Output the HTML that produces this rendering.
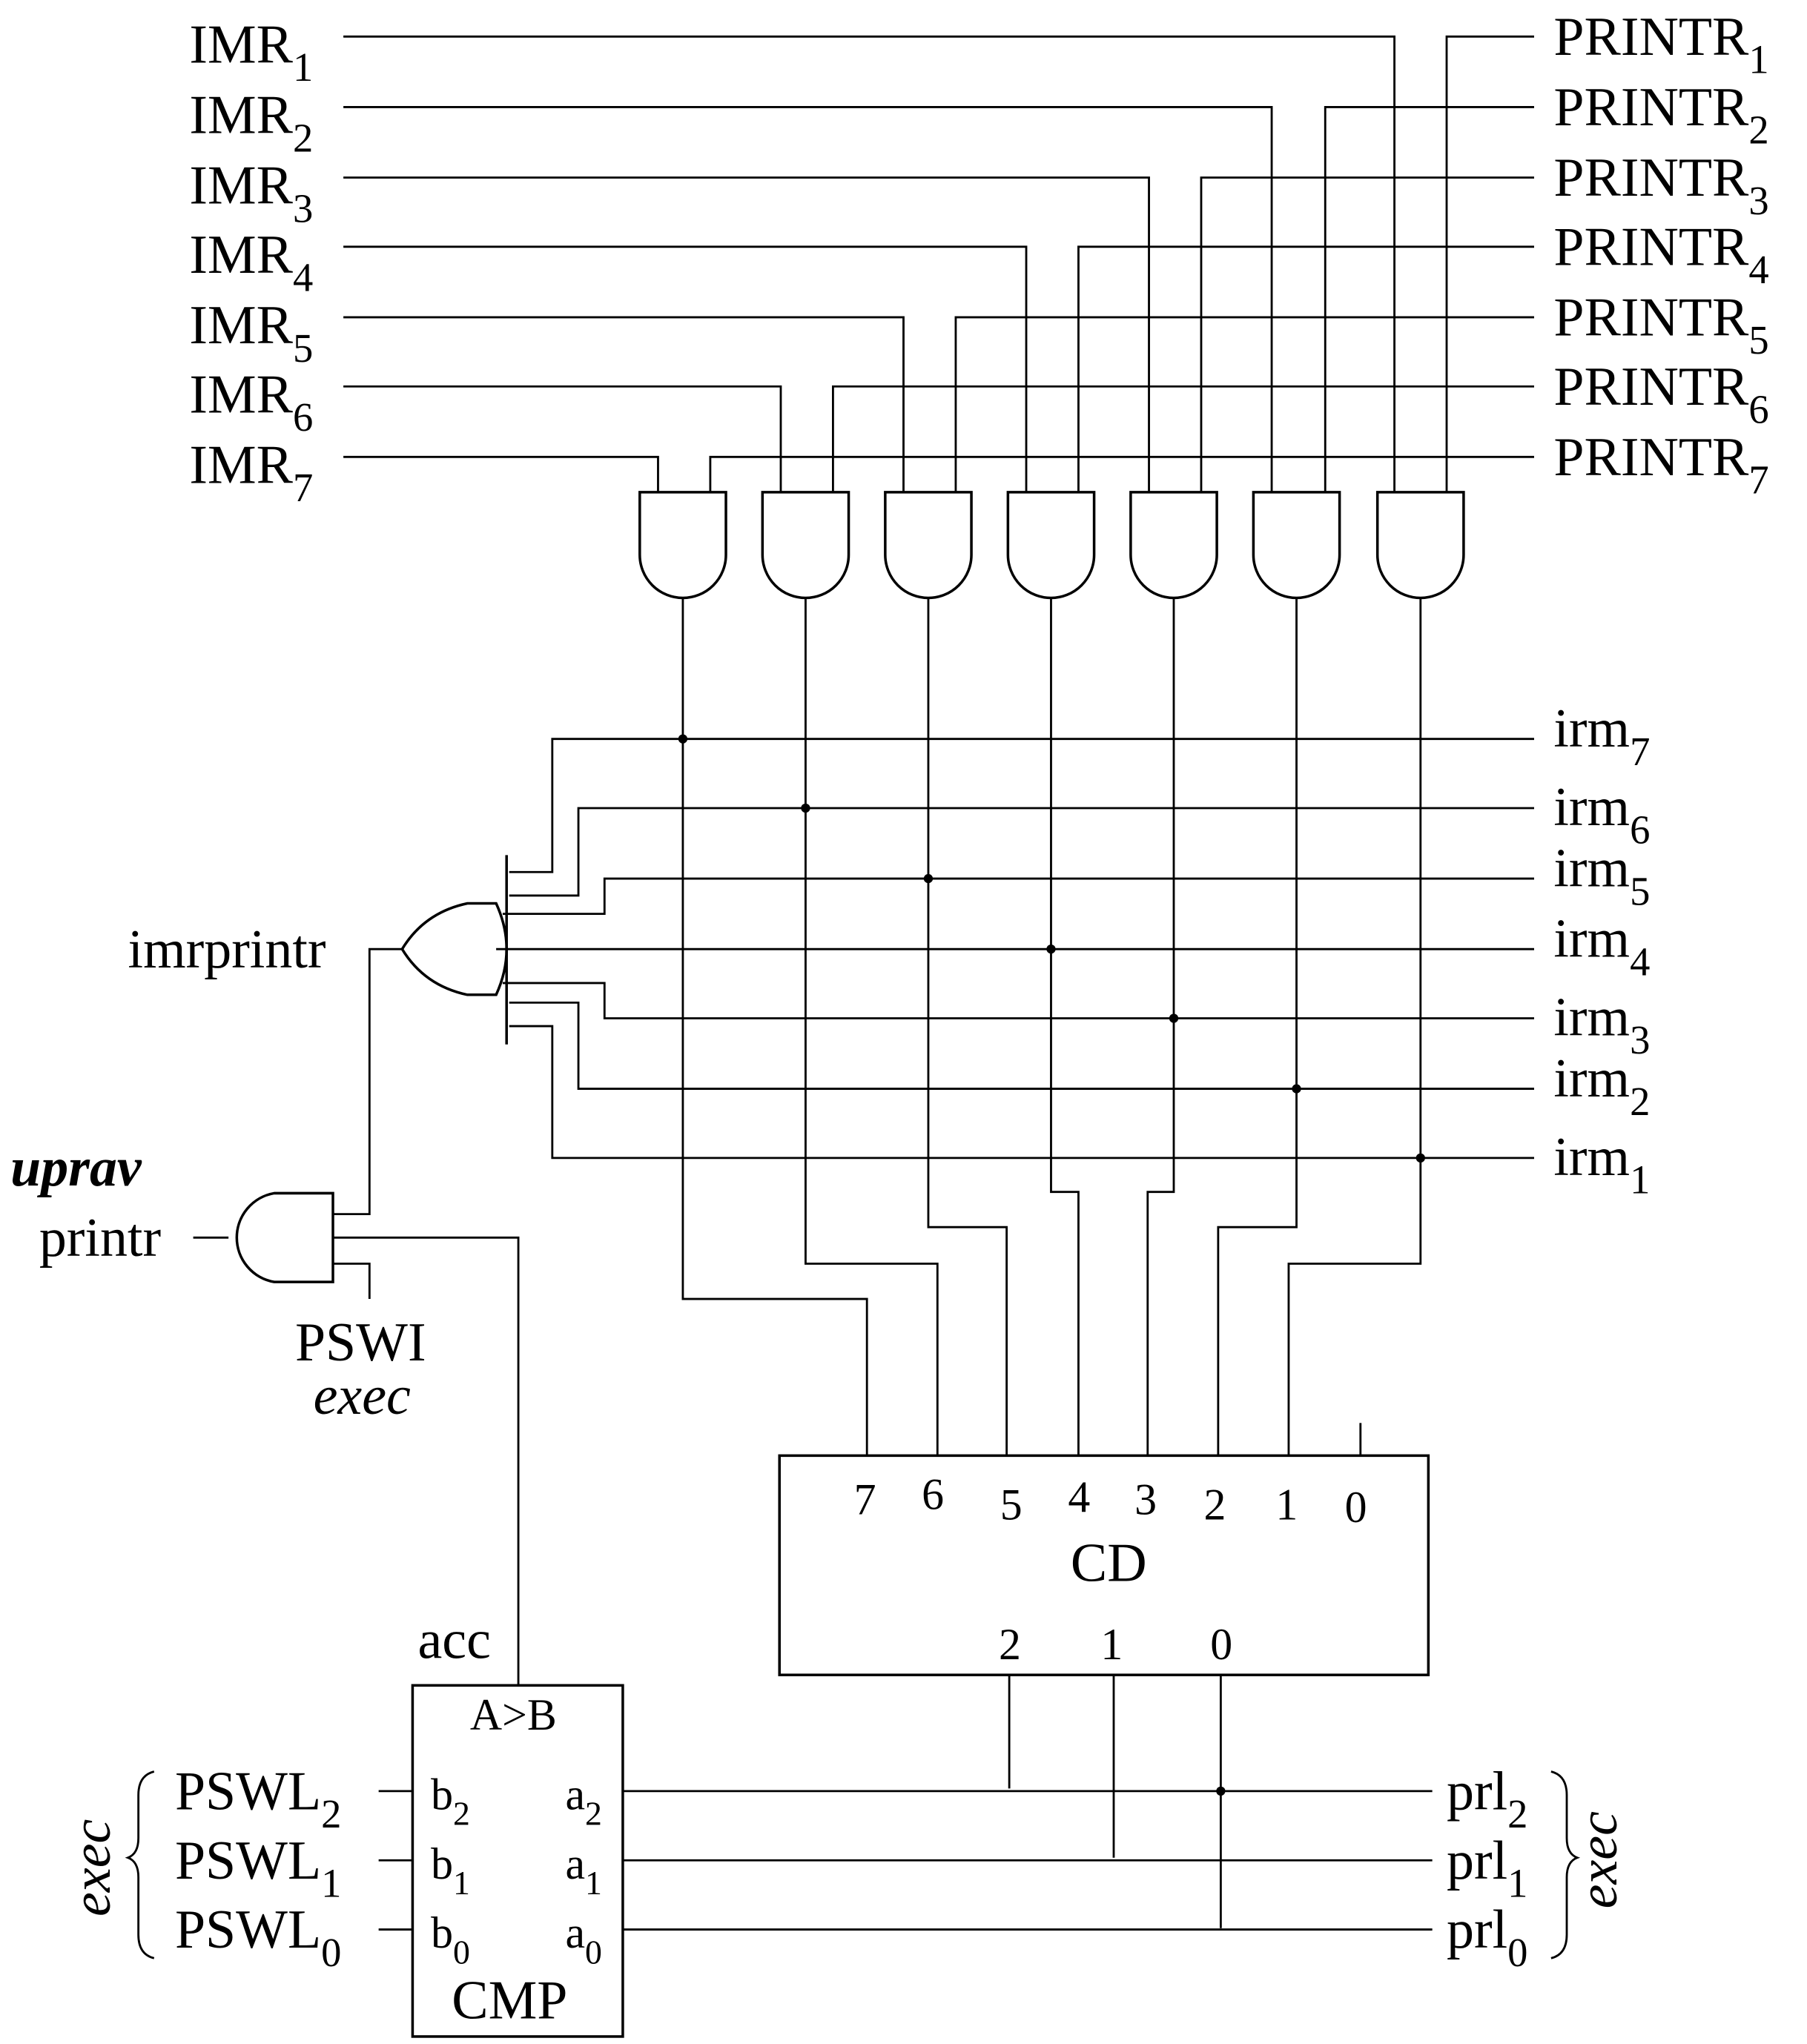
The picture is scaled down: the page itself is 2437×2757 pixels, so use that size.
<!DOCTYPE html>
<html><head><style>html,body{margin:0;padding:0;background:#fff}svg{display:block}
text{font-family:"Liberation Serif",serif;fill:#000}</style></head><body>
<svg width="2437" height="2757" viewBox="0 0 1384 1565.7" xmlns="http://www.w3.org/2000/svg">
<g stroke="#000" stroke-width="1.6" fill="none">
<polyline points="263,28 1068,28 1068,377"/>
<polyline points="263,82 974,82 974,377"/>
<polyline points="263,136 880,136 880,377"/>
<polyline points="263,189 786,189 786,377"/>
<polyline points="263,243 692,243 692,377"/>
<polyline points="263,296 598,296 598,377"/>
<polyline points="263,350 504,350 504,377"/>
<polyline points="1175,28 1108,28 1108,377"/>
<polyline points="1175,82 1015,82 1015,377"/>
<polyline points="1175,136 920,136 920,377"/>
<polyline points="1175,189 826,189 826,377"/>
<polyline points="1175,243 732,243 732,377"/>
<polyline points="1175,296 638,296 638,377"/>
<polyline points="1175,350 544,350 544,377"/>
<polyline points="523,458 523,995 664,995 664,1115"/>
<polyline points="617,458 617,968 718,968 718,1115"/>
<polyline points="711,458 711,940 771,940 771,1115"/>
<polyline points="805,458 805,913 826,913 826,1115"/>
<polyline points="899,458 899,913 879,913 879,1115"/>
<polyline points="993,458 993,940 933,940 933,1115"/>
<polyline points="1088,458 1088,968 987,968 987,1115"/>
<line x1="1042" y1="1090" x2="1042" y2="1115"/>
<polyline points="1175,566 423,566 423,668 390,668"/>
<polyline points="1175,619 443,619 443,686 390,686"/>
<polyline points="1175,673 463,673 463,700 385,700"/>
<line x1="380" y1="727" x2="1175" y2="727"/>
<polyline points="1175,780 463,780 463,753 385,753"/>
<polyline points="1175,834 443,834 443,768 390,768"/>
<polyline points="1175,887 423,887 423,786 390,786"/>
<line x1="388" y1="655" x2="388" y2="800" stroke-width="2"/>
<path d="M380,692 Q396,727 380,762 L358,762 Q325,755 308,727 Q325,699 358,692 Z" stroke-width="2"/>
<polyline points="308,727 283,727 283,930 255,930"/>
<polyline points="255,948 397,948 397,1291"/>
<polyline points="255,968 283,968 283,995"/>
<line x1="148" y1="948" x2="175" y2="948"/>
<path d="M255,914 L210,914 A34.5,34.5 0 0 0 210,982 L255,982 Z" stroke-width="2"/>
<g stroke-width="2">
<path d="M490,377 L556,377 L556,425 A33,33 0 0 1 490,425 Z"/>
<path d="M584,377 L650,377 L650,425 A33,33 0 0 1 584,425 Z"/>
<path d="M678,377 L744,377 L744,425 A33,33 0 0 1 678,425 Z"/>
<path d="M772,377 L838,377 L838,425 A33,33 0 0 1 772,425 Z"/>
<path d="M866,377 L932,377 L932,425 A33,33 0 0 1 866,425 Z"/>
<path d="M960,377 L1026,377 L1026,425 A33,33 0 0 1 960,425 Z"/>
<path d="M1055,377 L1121,377 L1121,425 A33,33 0 0 1 1055,425 Z"/>
<rect x="597" y="1115" width="497" height="168"/>
<rect x="316" y="1291" width="161" height="269"/>
</g>
<polyline points="773,1283 773,1370"/>
<polyline points="853,1283 853,1423"/>
<polyline points="935,1283 935,1477"/>
<line x1="477" y1="1372" x2="1097" y2="1372"/>
<line x1="477" y1="1425" x2="1097" y2="1425"/>
<line x1="477" y1="1478" x2="1097" y2="1478"/>
<line x1="290" y1="1372" x2="316" y2="1372"/>
<line x1="290" y1="1425" x2="316" y2="1425"/>
<line x1="290" y1="1478" x2="316" y2="1478"/>
<path d="M118,1357 Q106,1360 106,1375 L106,1408 Q106,1420 98,1423 Q106,1426 106,1438 L106,1482 Q106,1497 118,1500"/>
<path d="M1188,1357 Q1200,1360 1200,1375 L1200,1408 Q1200,1420 1208,1423 Q1200,1426 1200,1438 L1200,1482 Q1200,1497 1188,1500"/>
</g>
<g fill="#000">
<circle cx="523" cy="566" r="3.5"/><circle cx="617" cy="619" r="3.5"/><circle cx="711" cy="673" r="3.5"/>
<circle cx="805" cy="727" r="3.5"/><circle cx="899" cy="780" r="3.5"/><circle cx="993" cy="834" r="3.5"/>
<circle cx="1088" cy="887" r="3.5"/><circle cx="935" cy="1372" r="3.5"/>
</g>
<g font-size="42">
<text x="145" y="48">IMR<tspan font-size="31" dy="14">1</tspan></text>
<text x="145" y="102">IMR<tspan font-size="31" dy="14">2</tspan></text>
<text x="145" y="156">IMR<tspan font-size="31" dy="14">3</tspan></text>
<text x="145" y="209">IMR<tspan font-size="31" dy="14">4</tspan></text>
<text x="145" y="263">IMR<tspan font-size="31" dy="14">5</tspan></text>
<text x="145" y="316">IMR<tspan font-size="31" dy="14">6</tspan></text>
<text x="145" y="370">IMR<tspan font-size="31" dy="14">7</tspan></text>
<text x="1190" y="42">PRINTR<tspan font-size="31" dy="14">1</tspan></text>
<text x="1190" y="96">PRINTR<tspan font-size="31" dy="14">2</tspan></text>
<text x="1190" y="150">PRINTR<tspan font-size="31" dy="14">3</tspan></text>
<text x="1190" y="203">PRINTR<tspan font-size="31" dy="14">4</tspan></text>
<text x="1190" y="257">PRINTR<tspan font-size="31" dy="14">5</tspan></text>
<text x="1190" y="310">PRINTR<tspan font-size="31" dy="14">6</tspan></text>
<text x="1190" y="364">PRINTR<tspan font-size="31" dy="14">7</tspan></text>
<text x="1190" y="572">irm<tspan font-size="31" dy="14">7</tspan></text>
<text x="1190" y="632">irm<tspan font-size="31" dy="14">6</tspan></text>
<text x="1190" y="679">irm<tspan font-size="31" dy="14">5</tspan></text>
<text x="1190" y="733">irm<tspan font-size="31" dy="14">4</tspan></text>
<text x="1190" y="793">irm<tspan font-size="31" dy="14">3</tspan></text>
<text x="1190" y="840">irm<tspan font-size="31" dy="14">2</tspan></text>
<text x="1190" y="900">irm<tspan font-size="31" dy="14">1</tspan></text>
<text x="98" y="741">imrprintr</text>
<text x="8" y="908" font-weight="bold" font-style="italic">uprav</text>
<text x="30" y="962">printr</text>
<text x="226" y="1042">PSWI</text>
<text x="240" y="1083" font-style="italic">exec</text>
<text x="320" y="1270">acc</text>
<text x="134" y="1386">PSWL<tspan font-size="31" dy="14">2</tspan></text>
<text x="134" y="1439">PSWL<tspan font-size="31" dy="14">1</tspan></text>
<text x="134" y="1492">PSWL<tspan font-size="31" dy="14">0</tspan></text>
<text x="1108" y="1386">prl<tspan font-size="31" dy="14">2</tspan></text>
<text x="1108" y="1439">prl<tspan font-size="31" dy="14">1</tspan></text>
<text x="1108" y="1492">prl<tspan font-size="31" dy="14">0</tspan></text>
<text x="820" y="1211">CD</text>
<text x="346" y="1546">CMP</text>
<text transform="translate(84,1468) rotate(-90)" font-style="italic">exec</text>
<text transform="translate(1238,1462) rotate(-90)" font-style="italic">exec</text>
</g>
<g font-size="34">
<text x="654" y="1160">7</text><text x="706" y="1156">6</text><text x="766" y="1164">5</text>
<text x="818" y="1158">4</text><text x="869" y="1160">3</text><text x="922" y="1164">2</text>
<text x="977" y="1164">1</text><text x="1030" y="1166">0</text>
<text x="765" y="1271">2</text><text x="843" y="1271">1</text><text x="927" y="1271">0</text>
<text x="360" y="1325">A&gt;B</text>
<text x="330" y="1386">b<tspan font-size="26" dy="12">2</tspan></text>
<text x="330" y="1439">b<tspan font-size="26" dy="12">1</tspan></text>
<text x="330" y="1492">b<tspan font-size="26" dy="12">0</tspan></text>
<text x="433" y="1386">a<tspan font-size="26" dy="12">2</tspan></text>
<text x="433" y="1439">a<tspan font-size="26" dy="12">1</tspan></text>
<text x="433" y="1492">a<tspan font-size="26" dy="12">0</tspan></text>
</g>
</svg>
</body></html>
